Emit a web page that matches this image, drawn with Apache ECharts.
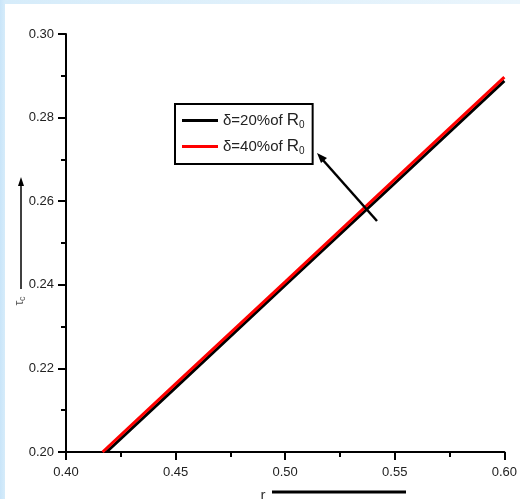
<!DOCTYPE html>
<html><head><meta charset="utf-8">
<script src="https://cdn.jsdelivr.net/npm/echarts@6/dist/echarts.min.js"></script>
<style>
html,body{margin:0;padding:0;width:520px;height:499px;overflow:hidden;background:linear-gradient(to right,#c9e5f9 0px,#d6ecfa 5px,#eaf5fc 100%);}
#paper{position:absolute;left:5px;top:4px;width:515px;height:495px;background:#fff;}
#c{position:absolute;left:0;top:0;width:520px;height:499px;}
</style></head>
<body><div id="paper"></div><div id="c"></div>
<script>
const seriesNames = ['δ=20%of R0', 'δ=40%of R0'];
const rValues20 = [0.4185, 0.45, 0.50, 0.55, 0.60];
const tau20 = [0.2000, 0.2154, 0.2399, 0.2643, 0.2888];
const rValues40 = [0.4167, 0.45, 0.50, 0.55, 0.60];
const tau40 = [0.2000, 0.2163, 0.2407, 0.2652, 0.2897];
const xTicks = [0.40, 0.45, 0.50, 0.55, 0.60];
const yTicks = [0.20, 0.22, 0.24, 0.26, 0.28, 0.30];

const FONT = "'Liberation Sans', Arial, sans-serif";
const chart = echarts.init(document.getElementById('c'), null, {renderer:'canvas'});
const pair = (xs, ys) => xs.map((x, i) => [x, ys[i]]);
const axisFont = {fontFamily:FONT, fontSize:13, color:'#222'};
chart.setOption({
  animation:false,
  backgroundColor:'transparent',
  grid:{left:66, right:10, top:34, bottom:47, containLabel:false},
  xAxis:{type:'value', min:xTicks[0], max:xTicks[xTicks.length-1], interval:0.05,
    axisLine:{show:true, lineStyle:{color:'#000', width:2}},
    axisTick:{show:true, length:8, lineStyle:{color:'#000', width:2}},
    minorTick:{show:true, splitNumber:2, length:5, lineStyle:{color:'#000', width:2}},
    splitLine:{show:false},
    axisLabel:Object.assign({margin:14, formatter:v=>v.toFixed(2)}, axisFont)},
  yAxis:{type:'value', min:yTicks[0], max:yTicks[yTicks.length-1], interval:0.02,
    axisLine:{show:true, lineStyle:{color:'#000', width:2}},
    axisTick:{show:true, length:8, lineStyle:{color:'#000', width:2}},
    minorTick:{show:true, splitNumber:2, length:5, lineStyle:{color:'#000', width:2}},
    splitLine:{show:false},
    axisLabel:Object.assign({margin:12, formatter:v=>v.toFixed(2)}, axisFont)},
  legend:{
    left:175, top:104, orient:'vertical', padding:[8,8,8,7],
    borderColor:'#000', borderWidth:2, backgroundColor:'#fff',
    itemWidth:36, itemHeight:3, itemGap:8, icon:'rect',
    data:seriesNames,
    formatter:function(n){ return n.replace('R0','{r|R}{s|0}'); },
    textStyle:{fontFamily:FONT, fontSize:15, color:'#222',
      rich:{r:{fontFamily:FONT, fontSize:17, color:'#222'},
            s:{fontFamily:FONT, fontSize:10, color:'#222', verticalAlign:'bottom', padding:[9,0,0,0]}}}
  },
  series:[
    {name:seriesNames[0], type:'line', data:pair(rValues20, tau20), showSymbol:false, symbol:'none',
      lineStyle:{color:'#000', width:3}, itemStyle:{color:'#000'}, z:2},
    {name:seriesNames[1], type:'line', data:pair(rValues40, tau40), showSymbol:false, symbol:'none',
      lineStyle:{color:'#f00', width:3}, itemStyle:{color:'#f00'}, z:3}
  ],
  graphic:[
    {type:'line', shape:{x1:377, y1:221, x2:322, y2:159}, style:{stroke:'#000', lineWidth:2.5}, z:10},
    {type:'polygon', shape:{points:[[317,153],[327,158],[321,163]]}, style:{fill:'#000'}, z:10},
    {type:'line', shape:{x1:21, y1:289, x2:21, y2:182}, style:{stroke:'#000', lineWidth:1.5}},
    {type:'polygon', shape:{points:[[21,177],[24,186],[18,186]]}, style:{fill:'#000'}},
    {type:'text', x:20, y:301, rotation:Math.PI/2,
      style:{text:'{t|τ}{c|c}', align:'center', verticalAlign:'middle',
        rich:{t:{fontFamily:FONT, fontSize:12, fill:'#555'},
              c:{fontFamily:FONT, fontSize:9, fill:'#555', verticalAlign:'bottom', padding:[6,0,0,0]}}}},
    {type:'text', x:263, y:488, style:{text:'r', fontFamily:FONT, fontSize:15, fill:'#333', align:'center', verticalAlign:'top'}},
    {type:'line', shape:{x1:272, y1:492, x2:406, y2:492}, style:{stroke:'#000', lineWidth:3}}
  ]
});
</script></body></html>
